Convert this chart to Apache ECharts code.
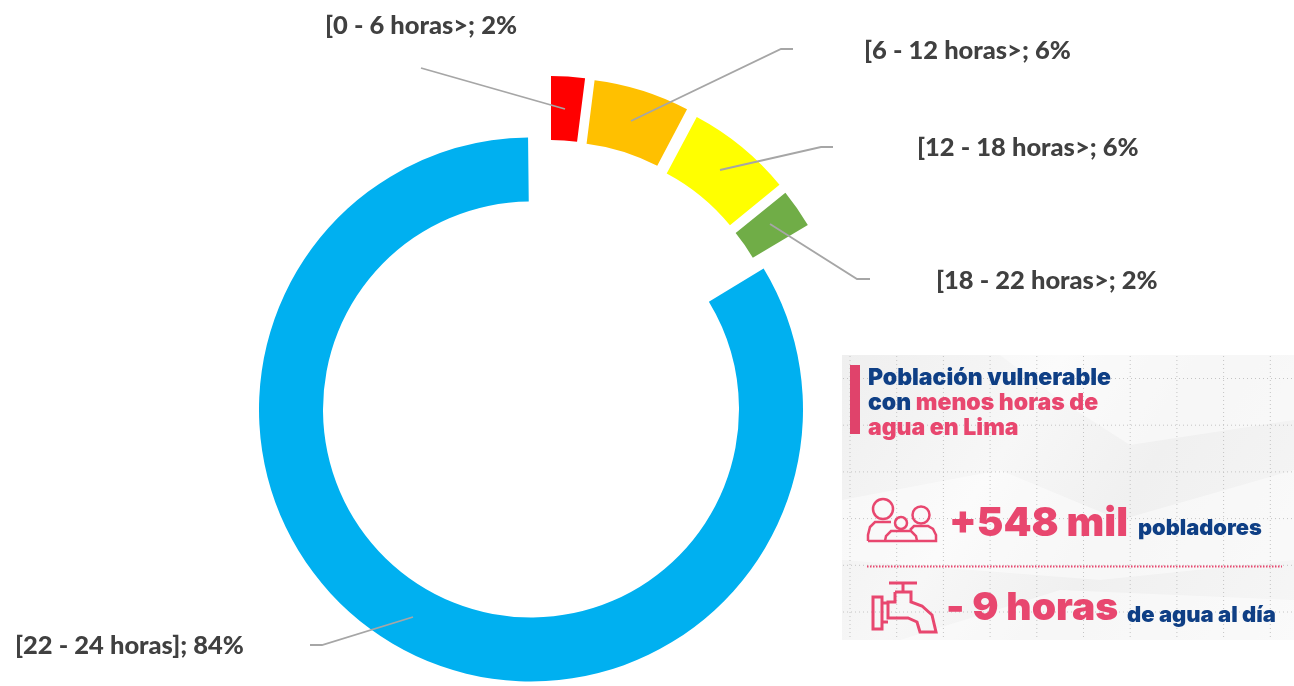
<!DOCTYPE html>
<html><head><meta charset="utf-8">
<style>html,body{margin:0;padding:0;background:#fff}#c{width:1294px;height:686px}</style>
<script src="https://cdn.jsdelivr.net/npm/echarts@6/dist/echarts.min.js"></script>
</head><body><div id="c"></div>
<script>
const categories = ['[0 - 6 horas>', '[6 - 12 horas>', '[12 - 18 horas>', '[18 - 22 horas>', '[22 - 24 horas]'];
const shares = [2.0, 5.7, 6.3, 2.3, 83.5];
const colors = ['#FF0000', '#FFC000', '#FFFF00', '#70AD47', '#00B0F0'];

const centers = [[551, 348], [560.5, 350], [569, 357], [574, 364], [531, 409.5]];
const rotations = [0, 0, -0.3, -0.6, -0.1];
const labelPos = [[325, 26], [864, 51], [917, 148], [936, 281], [15, 646]];
const leaders = [
  [[421, 68], [565, 109]],
  [[793, 49], [781, 49], [631, 121]],
  [[833, 147], [821, 147], [720, 170]],
  [[870, 279], [857, 279], [770, 224]],
  [[310, 645], [322, 645], [413, 617]]
];

let cum = 0;
const series = categories.map((name, i) => {
  const start = 90 - cum * 3.6 + rotations[i];
  cum += shares[i];
  return {
    type: 'pie', name, center: centers[i], radius: [208, 272],
    startAngle: start, endAngle: start - shares[i] * 3.6,
    silent: true, avoidLabelOverlap: false,
    data: [{ name, value: shares[i], itemStyle: { color: colors[i] } }],
    label: {
      show: true, position: 'outside', overflow: 'none',
      formatter: p => p.name + '; ' + Math.round(p.value) + '%',
      fontFamily: 'Lato', fontWeight: 900, fontSize: 25.5, color: '#404040'
    },
    labelLine: { show: false },
    labelLayout: { x: labelPos[i][0], y: labelPos[i][1], align: 'left', verticalAlign: 'middle', hideOverlap: false }
  };
});

const NAVY = '#0F3F85', PINK = '#E8476F';
const g = [];
leaders.forEach(pts => g.push({ type: 'polyline', z: 10, silent: true, shape: { points: pts }, style: { stroke: '#A6A6A6', lineWidth: 1.8, fill: null } }));

// infographic panel
g.push({ type: 'rect', z: 1, shape: { x: 842, y: 355, width: 452, height: 285 }, style: {
  fill: new echarts.graphic.LinearGradient(0, 0, 1, 1, [
    { offset: 0, color: '#EFEFEF' }, { offset: 0.35, color: '#F7F7F7' },
    { offset: 0.6, color: '#F0F0F0' }, { offset: 1, color: '#F6F6F6' }]) } });
[[[842, 500], [1000, 470], [1120, 520], [1294, 470], [1294, 560], [1100, 580], [842, 560]],
 [[1000, 355], [1294, 355], [1294, 420], [1130, 445], [1060, 400]],
 [[900, 640], [1060, 590], [1294, 600], [1294, 640]]].forEach(p =>
  g.push({ type: 'polygon', z: 1, shape: { points: p }, style: { fill: 'rgba(255,255,255,0.45)' } }));
for (let x = 850; x < 1294; x += 46.7) g.push({ type: 'line', z: 2, shape: { x1: x, y1: 356, x2: x, y2: 639 }, style: { stroke: '#C4C4C4', lineWidth: 1, lineDash: [1, 3] } });
for (let y = 378.5; y < 640; y += 46.7) g.push({ type: 'line', z: 2, shape: { x1: 843, y1: y, x2: 1293, y2: y }, style: { stroke: '#C4C4C4', lineWidth: 1, lineDash: [1, 3] } });
g.push({ type: 'rect', z: 3, shape: { x: 850, y: 365, width: 10, height: 69 }, style: { fill: '#E0436B' } });

function rich(parts, x, y, size) {
  g.push({ type: 'text', z: 4, x, y, style: { text: parts.map((p, i) => '{s' + i + '|' + p[0] + '}').join(''), verticalAlign: 'middle',
    rich: Object.fromEntries(parts.map((p, i) => ['s' + i, { fill: p[1], font: '900 ' + size + 'px Inter' }])) } });
}
rich([['Población vulnerable', NAVY]], 868, 378, 23);
rich([['con ', NAVY], ['menos horas de', PINK]], 868, 403, 23);
rich([['agua en Lima', PINK]], 868, 428, 23);
rich([['+548 mil', PINK]], 949, 524, 40);
rich([['pobladores', NAVY]], 1138, 528, 21.8);
rich([['- 9 horas', PINK]], 946, 608, 39);
rich([['de agua al día', NAVY]], 1127, 615, 22);
g.push({ type: 'line', z: 3, shape: { x1: 867, y1: 566.5, x2: 1282, y2: 566.5 }, style: { stroke: PINK, lineWidth: 2, lineDash: [1.5, 1.5] } });

// people icon
const ic = { stroke: PINK, lineWidth: 2.5, fill: null };
[[883, 509, 10], [921, 515, 8.5], [901, 523, 6]].forEach(c => g.push({ type: 'circle', z: 4, shape: { cx: c[0], cy: c[1], r: c[2] }, style: ic }));
g.push({ type: 'polyline', z: 4, shape: { points: [[868, 541], [868, 535], [870, 527], [875, 522], [891, 522]] }, style: ic });
g.push({ type: 'polyline', z: 4, shape: { points: [[868, 541], [936, 541], [936, 535], [933, 529], [928, 526], [914, 526], [910, 530]] }, style: ic });
g.push({ type: 'polyline', z: 4, shape: { points: [[885, 541], [886, 536], [891, 531], [911, 531], [916, 536], [917, 541]] }, style: ic });
// tap icon
const tap = { stroke: PINK, lineWidth: 3, fill: null };
g.push({ type: 'line', z: 4, shape: { x1: 889, y1: 583, x2: 917, y2: 583 }, style: tap });
g.push({ type: 'line', z: 4, shape: { x1: 903, y1: 583, x2: 903, y2: 592 }, style: tap });
g.push({ type: 'polyline', z: 4, shape: { points: [[895, 592], [911, 592], [911, 602], [922, 606], [932, 615], [936, 632], [920, 632], [917, 622], [908, 618], [888, 618], [888, 602], [895, 602], [895, 592]] }, style: tap });
g.push({ type: 'rect', z: 4, shape: { x: 873, y: 597, width: 9, height: 32 }, style: tap });
g.push({ type: 'line', z: 4, shape: { x1: 882, y1: 603, x2: 888, y2: 603 }, style: tap });
g.push({ type: 'line', z: 4, shape: { x1: 882, y1: 622, x2: 888, y2: 622 }, style: tap });

const chart = echarts.init(document.getElementById('c'), null, { renderer: 'canvas' });
chart.setOption({ animation: false, backgroundColor: '#fff', series, graphic: { elements: g } });
</script></body></html>
